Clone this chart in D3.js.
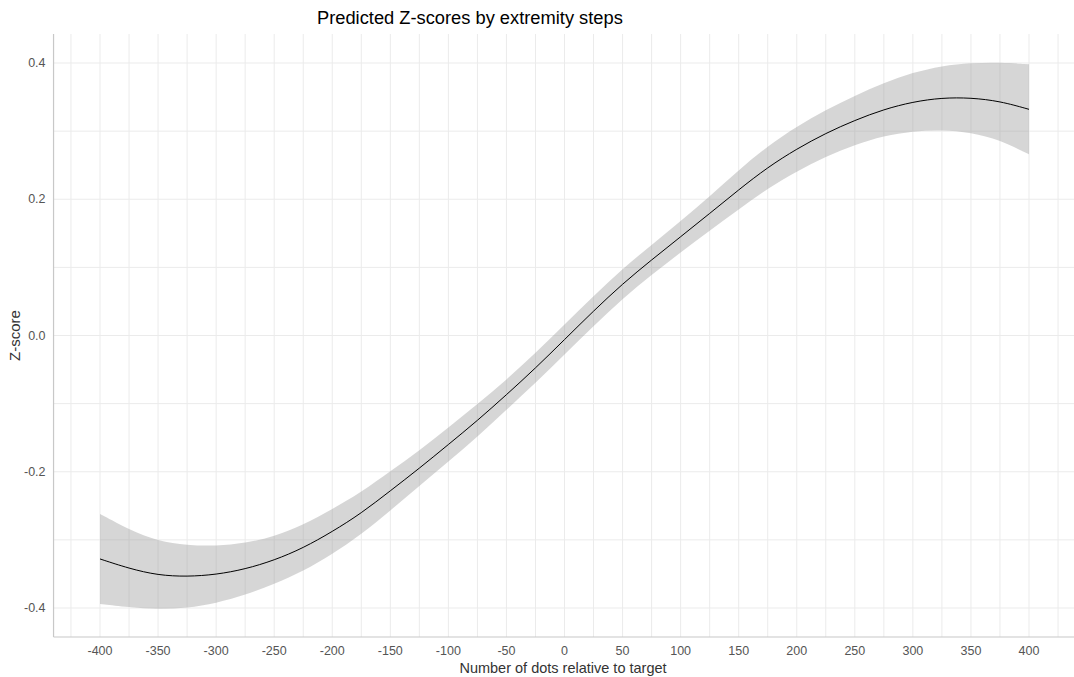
<!DOCTYPE html>
<html>
<head>
<meta charset="utf-8">
<script src="https://cdn.jsdelivr.net/npm/d3@7"></script>
<style>
  body { margin: 0; background: #fff; }
  svg { display: block; font-family: "Liberation Sans", Arial, sans-serif; }
  .grid line { stroke: #ebebeb; stroke-width: 1; }
  .tick-label { fill: #555; font-size: 12.5px; }
</style>
</head>
<body>
<svg id="chart" width="1074" height="677"></svg>
<script>
// Predicted values
const steps = [-400, -375, -350, -325, -300, -275, -250, -225, -200, -175, -150, -125, -100,
  -75, -50, -25, 0, 25, 50, 75, 100, 125, 150, 175, 200, 225, 250, 275, 300, 325, 350, 375, 400];
const fit = [-0.328, -0.342, -0.352, -0.354, -0.351, -0.343, -0.330, -0.312, -0.288, -0.261, -0.228, -0.195, -0.160,
  -0.125, -0.087, -0.048, -0.006, 0.036, 0.076, 0.111, 0.145, 0.179, 0.214, 0.247, 0.274, 0.297, 0.316, 0.332, 0.343, 0.349, 0.349, 0.344, 0.332];
const lower = [-0.394, -0.399, -0.402, -0.400, -0.393, -0.381, -0.365, -0.346, -0.321, -0.292, -0.257, -0.221, -0.185,
  -0.149, -0.109, -0.070, -0.028, 0.014, 0.054, 0.089, 0.122, 0.154, 0.185, 0.216, 0.241, 0.263, 0.280, 0.293, 0.300, 0.302, 0.298, 0.287, 0.266];
const upper = [-0.262, -0.285, -0.302, -0.308, -0.309, -0.305, -0.295, -0.278, -0.255, -0.230, -0.199, -0.169, -0.135,
  -0.101, -0.065, -0.026, 0.016, 0.058, 0.098, 0.133, 0.168, 0.204, 0.243, 0.278, 0.307, 0.331, 0.352, 0.371, 0.386, 0.396, 0.400, 0.401, 0.398];

const xTicks = d3.range(-400, 401, 50);
const xGrid = d3.range(-425, 426, 25);
const yTicks = [-0.4, -0.2, 0, 0.2, 0.4];
const yGrid = d3.range(-4, 5).map(d => d / 10);

const titleText = "Predicted Z-scores by extremity steps";
const xTitle = "Number of dots relative to target";
const yTitle = "Z-score";

const data = steps.map((s, i) => ({ x: s, y: fit[i], lo: lower[i], hi: upper[i] }));

const svg = d3.select("#chart");

// scales, panel padded like ggplot (5% on each side)
const xScale = d3.scaleLinear().domain([-400, 400]).range([100, 1029]);
const yScale = d3.scaleLinear().domain([-0.4, 0.4]).range([608, 63]);

const panelLeft = xScale(-440), panelRight = xScale(440);
const panelTop = yScale(0.4426), panelBottom = yScale(-0.4426);

// grid lines
const grid = svg.append("g").attr("class", "grid");
grid.selectAll(".v")
  .data(xGrid)
  .join("line")
  .attr("x1", d => xScale(d)).attr("x2", d => xScale(d))
  .attr("y1", panelTop).attr("y2", panelBottom);
grid.selectAll(".h")
  .data(yGrid)
  .join("line")
  .attr("x1", panelLeft).attr("x2", panelRight)
  .attr("y1", d => yScale(d)).attr("y2", d => yScale(d));

// confidence ribbon
const area = d3.area()
  .x(d => xScale(d.x))
  .y0(d => yScale(d.lo))
  .y1(d => yScale(d.hi))
  .curve(d3.curveBasis);

svg.append("path")
  .datum(data)
  .attr("d", area)
  .attr("fill", "#999999")
  .attr("fill-opacity", 0.4);

// fitted line
const line = d3.line()
  .x(d => xScale(d.x))
  .y(d => yScale(d.y))
  .curve(d3.curveBasis);

svg.append("path")
  .datum(data)
  .attr("d", line)
  .attr("fill", "none")
  .attr("stroke", "#000")
  .attr("stroke-width", 1);

// axis lines
svg.append("line")
  .attr("x1", panelLeft).attr("x2", panelLeft)
  .attr("y1", panelTop).attr("y2", panelBottom)
  .attr("stroke", "#c8c8c8").attr("stroke-width", 1.2);
svg.append("line")
  .attr("x1", panelLeft).attr("x2", panelRight)
  .attr("y1", panelBottom).attr("y2", panelBottom)
  .attr("stroke", "#c8c8c8").attr("stroke-width", 1.2);

// tick labels
svg.append("g").selectAll("text")
  .data(xTicks)
  .join("text")
  .attr("class", "tick-label")
  .attr("x", d => xScale(d))
  .attr("y", panelBottom + 18)
  .attr("text-anchor", "middle")
  .text(d => String(d));

svg.append("g").selectAll("text")
  .data(yTicks)
  .join("text")
  .attr("class", "tick-label")
  .attr("x", panelLeft - 8)
  .attr("y", d => yScale(d) + 4)
  .attr("text-anchor", "end")
  .text(d => d.toFixed(1));

// titles
svg.append("text")
  .attr("x", 317)
  .attr("y", 24)
  .attr("font-size", 18.3)
  .attr("fill", "#000")
  .text(titleText);

svg.append("text")
  .attr("x", 563)
  .attr("y", 673)
  .attr("text-anchor", "middle")
  .attr("font-size", 14.5)
  .attr("fill", "#333")
  .text(xTitle);

svg.append("text")
  .attr("transform", `translate(20, ${(panelTop + panelBottom) / 2}) rotate(-90)`)
  .attr("text-anchor", "middle")
  .attr("font-size", 15)
  .attr("fill", "#333")
  .text(yTitle);
</script>
</body>
</html>
